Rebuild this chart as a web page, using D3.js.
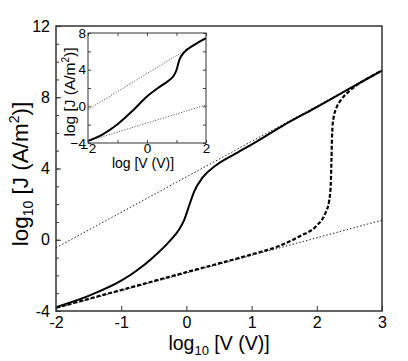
<!DOCTYPE html>
<html>
<head>
<meta charset="utf-8">
<script src="https://cdn.jsdelivr.net/npm/d3@7"></script>
<style>
  body { margin: 0; background: #fff; }
  text { font-family: "Liberation Sans", Arial, sans-serif; fill: #000; }
</style>
</head>
<body>
<div id="chart"></div>
<script>
// main panel data (log10 V, log10 J)
var solidMain = [[-2,-3.78],[-1.5,-3.15],[-1,-2.3],[-0.75,-1.7],[-0.5,-0.95],[-0.25,-0.05],
  [-0.1,0.65],[-0.03,1.15],[0.045,1.95],[0.12,2.72],[0.25,3.5],[0.45,4.17],[0.76,4.85],[1.07,5.5],
  [1.5,6.45],[2,7.45],[2.5,8.48],[3,9.5]];
var dashedMain = [[-2,-3.82],[-1,-2.82],[0,-1.82],[1,-0.82],[1.4,-0.38],[1.74,0.2],[2.0,0.8],
  [2.12,1.4],[2.19,2.2],[2.215,3.2],[2.225,4.5],[2.232,5.6],[2.24,6.3],[2.26,6.9],[2.3,7.4],
  [2.37,7.85],[2.47,8.25],[2.6,8.65],[2.8,9.1],[3,9.5]];
var upperFit = [[-2,-0.45],[3,9.5]];
var lowerFit = [[-2,-3.85],[3,1.1]];

// inset data
var solidInset = [[-2,-3.78],[-1.5,-3.05],[-1.03,-2.04],[-0.46,-0.4],[-0.01,1.05],[0.44,2.15],
  [0.75,2.85],[0.9,3.3],[1.0,3.96],[1.1,5.1],[1.25,5.85],[1.6,6.7],[2,7.45]];
var upperInset = [[-2,-0.35],[2,7.5]];
var lowerInset = [[-2,-3.8],[2,0.15]];

var xTicks = [-2,-1,0,1,2,3];
var yTicks = [-4,0,4,8,12];
var yMinor = d3.range(-4,13,1);
var insetXTicks = [-2,0,2];
var insetYTicks = [-4,0,4,8];

var W = 408, H = 361;
var svg = d3.select("#chart").append("svg").attr("width", W).attr("height", H);

// ---- main panel
var x = d3.scaleLinear().domain([-2,3]).range([56,382]);
var y = d3.scaleLinear().domain([-4,12]).range([311,26]);

var lineX = d3.line().x(d => x(d[0])).y(d => y(d[1])).curve(d3.curveMonotoneX);

svg.append("path").datum(upperFit).attr("d", lineX).attr("fill","none")
  .attr("stroke","#222").attr("stroke-width",1).attr("stroke-dasharray","1.5,2");
svg.append("path").datum(lowerFit).attr("d", lineX).attr("fill","none")
  .attr("stroke","#222").attr("stroke-width",1).attr("stroke-dasharray","1.5,2");
svg.append("path").datum(solidMain).attr("d", lineX).attr("fill","none")
  .attr("stroke","#000").attr("stroke-width",2);
svg.append("path").datum(dashedMain).attr("d", lineX).attr("fill","none")
  .attr("stroke","#000").attr("stroke-width",2.2).attr("stroke-dasharray","4,2");

// axes (ticks inward)
var gx = svg.append("g").attr("transform","translate(0,311)")
  .call(d3.axisBottom(x).tickValues(xTicks).tickSize(-5).tickPadding(6).tickFormat(d3.format("d")));
var gy = svg.append("g").attr("transform","translate(56,0)")
  .call(d3.axisLeft(y).tickValues(yTicks).tickSize(-5).tickPadding(6).tickFormat(d3.format("d")));
svg.append("g").attr("transform","translate(56,0)")
  .call(d3.axisLeft(y).tickValues(yMinor).tickSize(-3).tickFormat(""))
  .call(g => g.select(".domain").remove());
[gx, gy].forEach(g => {
  g.select(".domain").remove();
  g.selectAll("text").style("font-size","16px").text(function(d){ return String(d).replace("\u2212","-"); });
});
svg.selectAll("g line").attr("stroke","#333");
svg.append("rect").attr("x",56).attr("y",26).attr("width",326).attr("height",285)
  .attr("fill","none").attr("stroke","#333").attr("stroke-width",1.5);

// axis titles
var xt = svg.append("text").attr("x",219).attr("y",350).attr("text-anchor","middle").style("font-size","19.5px");
xt.append("tspan").text("log");
xt.append("tspan").text("10").style("font-size","13px").attr("dy",5);
xt.append("tspan").text(" [V (V)]").attr("dy",-5);

var yt = svg.append("text").attr("transform","translate(28,174) rotate(-90)")
  .attr("text-anchor","middle").style("font-size","22.5px");
yt.append("tspan").text("log");
yt.append("tspan").text("10").style("font-size","14px").attr("dy",5);
yt.append("tspan").text(" [J (A/m").attr("dy",-5);
yt.append("tspan").text("2").style("font-size","14px").attr("dy",-9);
yt.append("tspan").text(")]").attr("dy",9);

// ---- inset
var xi = d3.scaleLinear().domain([-2,2]).range([88,206]);
var yi = d3.scaleLinear().domain([-4,8]).range([143,33]);
var lineI = d3.line().x(d => xi(d[0])).y(d => yi(d[1])).curve(d3.curveMonotoneX);

var inset = svg.append("g");
inset.append("rect").attr("x",88).attr("y",33).attr("width",118).attr("height",110).attr("fill","#fff");
inset.append("path").datum(upperInset).attr("d", lineI).attr("fill","none")
  .attr("stroke","#666").attr("stroke-width",1).attr("stroke-dasharray","1.2,1.5");
inset.append("path").datum(lowerInset).attr("d", lineI).attr("fill","none")
  .attr("stroke","#666").attr("stroke-width",1).attr("stroke-dasharray","1.2,1.5");
inset.append("path").datum(solidInset).attr("d", lineI).attr("fill","none")
  .attr("stroke","#000").attr("stroke-width",2);

var ixb = inset.append("g").attr("transform","translate(0,143)")
  .call(d3.axisBottom(xi).tickValues(insetXTicks).tickSize(0).tickPadding(0).tickFormat(d3.format("d")));
var iyl = inset.append("g").attr("transform","translate(88,0)")
  .call(d3.axisLeft(yi).tickValues(insetYTicks).tickSize(0).tickPadding(2).tickFormat(d3.format("d")));
[ixb, iyl].forEach(g => { g.select(".domain").remove(); g.selectAll("text").style("font-size","13.5px"); });
// inward ticks on all four sides
var ixt = d3.range(-2,2.01,1), iyt = d3.range(-4,8.01,2);
inset.append("g").attr("transform","translate(0,143)").call(d3.axisBottom(xi).tickValues(ixt).tickSize(-3).tickFormat(""));
inset.append("g").attr("transform","translate(0,33)").call(d3.axisTop(xi).tickValues(ixt).tickSize(-3).tickFormat(""));
inset.append("g").attr("transform","translate(88,0)").call(d3.axisLeft(yi).tickValues(iyt).tickSize(-3).tickFormat(""));
inset.append("g").attr("transform","translate(206,0)").call(d3.axisRight(yi).tickValues(iyt).tickSize(-3).tickFormat(""));
inset.selectAll(".domain").remove();
inset.selectAll("line").attr("stroke","#444");
inset.append("rect").attr("x",88).attr("y",33).attr("width",118).attr("height",110)
  .attr("fill","none").attr("stroke","#333").attr("stroke-width",1);

inset.append("text").attr("x",143).attr("y",168).attr("text-anchor","middle")
  .style("font-size","14px").text("log [V (V)]");
var iyt2 = inset.append("text").attr("transform","translate(75,92) rotate(-90)")
  .attr("text-anchor","middle").style("font-size","15.5px");
iyt2.append("tspan").text("log [J (A/m");
iyt2.append("tspan").text("2").style("font-size","10px").attr("dy",-6);
iyt2.append("tspan").text(")]").attr("dy",6);
</script>
</body>
</html>
